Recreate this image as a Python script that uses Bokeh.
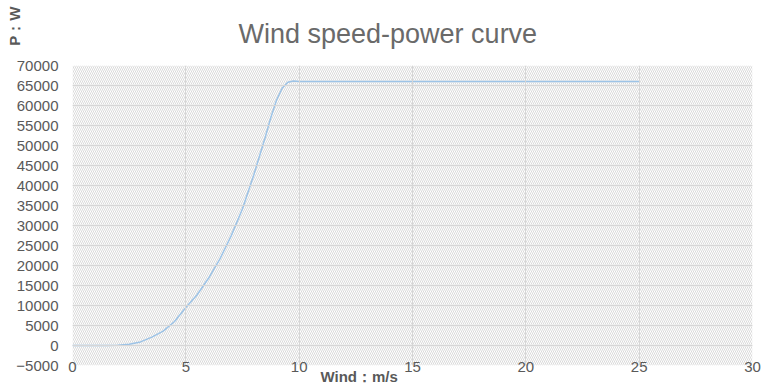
from bokeh.plotting import figure
from bokeh.models import Range1d, SingleIntervalTicker, BoxAnnotation, Title
from bokeh.embed import file_html
from bokeh.resources import INLINE

# Data
wind_speed = [0, 0.5, 1, 1.5, 2, 2.5, 3, 3.5, 4, 4.5, 5, 5.5, 6, 6.5, 7, 7.5, 8, 8.5, 8.75,
              9, 9.25, 9.5, 9.75,
              10, 11, 12, 13, 14, 15, 16, 17, 18, 19, 20, 21, 22, 23, 24, 25]
power = [0, 0, 0, 0, 50, 300, 900, 2100, 3600, 6000, 9500, 12700, 16800, 21600, 27400, 34200,
         42700, 52000, 57000,
         61300, 64300, 65800, 66150,
         66000, 66000, 66000, 66000, 66000, 66000, 66000, 66000, 66000, 66000, 66000, 66000,
         66000, 66000, 66000, 66000]

title_text = "Wind speed-power curve"
x_title = "Wind：m/s"
y_title = "P：W"

FONT = "Liberation Sans"
GRAY = "#595959"

p = figure(width=770, height=388, output_backend="svg", toolbar_location=None,
           x_range=Range1d(0, 30), y_range=Range1d(-5000, 70000),
           min_border_left=72, min_border_right=18, min_border_top=64, min_border_bottom=23)
p.outline_line_color = None
p.background_fill_color = "white"
p.border_fill_color = "white"

# hatched plot area
p.add_layout(BoxAnnotation(fill_alpha=0, line_color=None,
                           hatch_pattern="\\", hatch_color="#dadada", hatch_scale=4,
                           hatch_weight=1, level="underlay"))

p.xaxis.ticker = SingleIntervalTicker(interval=5)
p.yaxis.ticker = SingleIntervalTicker(interval=5000)
for ax in (p.xaxis[0], p.yaxis[0]):
    ax.axis_line_color = None
    ax.major_tick_line_color = None
    ax.minor_tick_line_color = None
    ax.major_tick_out = 0
    ax.major_tick_in = 0
    ax.major_label_text_font = FONT
    ax.major_label_text_font_size = "15px"
    ax.major_label_text_color = GRAY
p.xaxis.major_label_standoff = -8
p.yaxis.major_label_standoff = 10

p.xgrid.grid_line_color = "#d6d6d6"
p.ygrid.grid_line_color = "#d6d6d6"
p.xgrid.level = "glyph"
p.ygrid.level = "glyph"

p.line(wind_speed, power, line_color="#9dc3e6", line_width=1.5)

p.add_layout(Title(text=title_text, align="left", offset=166, standoff=33,
                   text_font=FONT, text_font_size="27px", text_font_style="normal",
                   text_color="#6a6a6a"), "above")
p.add_layout(Title(text=x_title, align="left", offset=248, standoff=-14, vertical_align="top",
                   text_font=FONT, text_font_size="15px", text_font_style="bold",
                   text_color=GRAY), "below")
p.add_layout(Title(text=y_title, align="right", offset=-59, standoff=-18, vertical_align="bottom",
                   text_font=FONT, text_font_size="15px", text_font_style="bold",
                   text_color=GRAY), "left")

open("out.html", "w").write(file_html(p, INLINE))
